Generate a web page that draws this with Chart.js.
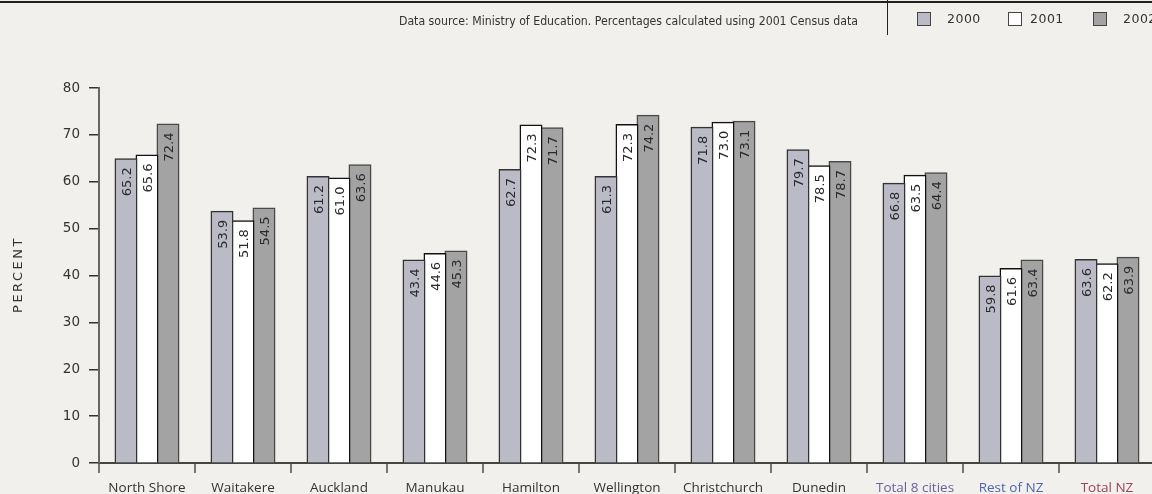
<!DOCTYPE html>
<html>
<head>
<meta charset="utf-8">
<script src="https://cdn.jsdelivr.net/npm/chart.js@4/dist/chart.umd.min.js"></script>
<style>
  html, body { margin: 0; padding: 0; background: #f1f0ec; overflow: hidden; width: 1152px; height: 494px; }
  #wrap { position: relative; width: 1200px; height: 494px; }
  #topline { position: absolute; left: 0; top: 1px; width: 1200px; height: 2px; background: #222; }
  #source { position: absolute; right: 342px; top: 14px; font: 12.2px "DejaVu Sans Condensed", "DejaVu Sans"; color: #333; white-space: nowrap; }
  #sep { position: absolute; left: 887px; top: 0; width: 1px; height: 35px; background: #222; }
  .lg { position: absolute; top: 12px; font: 12.5px "DejaVu Sans"; color: #333; letter-spacing: 0.5px; }
  .lg i { position: absolute; left: 0; top: 0; width: 14px; height: 14px; border: 1px solid #444; box-sizing: border-box; }
  .lg span { position: absolute; top: -1px; white-space: nowrap; }
  canvas { position: absolute; left: 0; top: 0; }
</style>
</head>
<body>
<div id="wrap">
  <canvas id="myChart" width="1200" height="494"></canvas>
  <div id="topline"></div>
  <div id="source">Data source: Ministry of Education. Percentages calculated using 2001 Census data</div>
  <div id="sep"></div>
  <div id="legend"></div>
</div>
<script>
var categories = ["North Shore", "Waitakere", "Auckland", "Manukau", "Hamilton", "Wellington",
    "Christchurch", "Dunedin", "Total 8 cities", "Rest of NZ", "Total NZ"];
var categoryColors = ["#333", "#333", "#333", "#333", "#333", "#333", "#333", "#333",
    "#6e5f9c", "#4d66a8", "#9c3f62"];
var years = ["2000", "2001", "2002"];

// bar heights as drawn
var values2000 = [64.8, 53.6, 61.0, 43.2, 62.5, 61.0, 71.5, 66.7, 59.6, 39.8, 43.3];
var values2001 = [65.6, 51.6, 60.7, 44.6, 72.0, 72.1, 72.6, 63.3, 61.3, 41.4, 42.4];
var values2002 = [72.2, 54.3, 63.5, 45.1, 71.4, 74.1, 72.8, 64.2, 61.8, 43.2, 43.8];

// numbers printed on the bars
var labels2000 = ["65.2", "53.9", "61.2", "43.4", "62.7", "61.3", "71.8", "79.7", "66.8", "59.8", "63.6"];
var labels2001 = ["65.6", "51.8", "61.0", "44.6", "72.3", "72.3", "73.0", "78.5", "63.5", "61.6", "62.2"];
var labels2002 = ["72.4", "54.5", "63.6", "45.3", "71.7", "74.2", "73.1", "78.7", "64.4", "63.4", "63.9"];

var yTicks = [0, 10, 20, 30, 40, 50, 60, 70, 80];

var fills = ["#bbbbc8", "#ffffff", "#a3a3a3"];
var borders = ["#333", "#111", "#4a4a4a"];
var barLabels = [labels2000, labels2001, labels2002];

// legend boxes in the header
var legendX = [917, 1008, 1093];
var legendHtml = "";
for (var i = 0; i < years.length; i++) {
    legendHtml += "<div class='lg' style='left:" + legendX[i] + "px'>" +
        "<i style='background:" + fills[i] + "'></i>" +
        "<span style='left:" + (i == 1 ? 22 : 30) + "px'>" + years[i] + "</span></div>";
}
document.getElementById("legend").innerHTML = legendHtml;

var valuePlugin = {
    id: "valueLabels",
    afterDatasetsDraw: function (chart) {
        var ctx = chart.ctx;
        ctx.save();
        ctx.font = "13px 'DejaVu Sans'";
        ctx.fillStyle = "#2a2a2a";
        ctx.textAlign = "right";
        ctx.textBaseline = "middle";
        chart.data.datasets.forEach(function (ds, di) {
            var meta = chart.getDatasetMeta(di);
            meta.data.forEach(function (bar, i) {
                ctx.save();
                ctx.translate(bar.x + 2, bar.y + 8);
                ctx.rotate(-Math.PI / 2);
                ctx.fillText(barLabels[di][i], 0, 0);
                ctx.restore();
            });
        });
        // y axis title, letter spaced
        var a = chart.chartArea;
        ctx.font = "13px 'DejaVu Sans'";
        ctx.fillStyle = "#333";
        ctx.textAlign = "center";
        ctx.letterSpacing = "2.5px";
        ctx.translate(19, (a.top + a.bottom) / 2);
        ctx.rotate(-Math.PI / 2);
        ctx.fillText("PERCENT", 1, 0);
        ctx.restore();
    }
};

var data = {
    labels: categories,
    datasets: [values2000, values2001, values2002].map(function (vals, i) {
        return {
            label: years[i],
            data: vals,
            backgroundColor: fills[i],
            borderColor: borders[i],
            borderWidth: 1.5,
            inflateAmount: 1,
            categoryPercentage: 0.656,
            barPercentage: 1.0
        };
    })
};

var ctx = document.getElementById("myChart").getContext("2d");
var myBarChart = new Chart(ctx, {
    type: "bar",
    data: data,
    plugins: [valuePlugin],
    options: {
        responsive: false,
        animation: false,
        layout: { padding: { top: 88, right: 45, left: 0, bottom: 0 } },
        plugins: { legend: { display: false }, tooltip: { enabled: false } },
        scales: {
            x: {
                afterFit: function (s) { s.height = 31; },
                grid: { drawOnChartArea: false, drawTicks: true, tickLength: 10, color: "#777", lineWidth: 2 },
                border: { color: "#444", width: 2 },
                ticks: {
                    autoSkip: false, maxRotation: 0, padding: 7,
                    font: { family: "'Open Sans'", size: 13.5 },
                    color: function (c) { return categoryColors[c.index]; }
                }
            },
            y: {
                min: 0, max: 80,
                afterFit: function (s) { s.width = 99; },
                afterBuildTicks: function (s) { s.ticks = yTicks.map(function (v) { return { value: v }; }); },
                grid: { drawOnChartArea: false, drawTicks: true, tickLength: 10, color: "#333", lineWidth: 1.5 },
                border: { color: "#666", width: 2 },
                ticks: { padding: 9, color: "#333", font: { family: "'DejaVu Sans'", size: 13.5 } }
            }
        }
    }
});
</script>
</body>
</html>
